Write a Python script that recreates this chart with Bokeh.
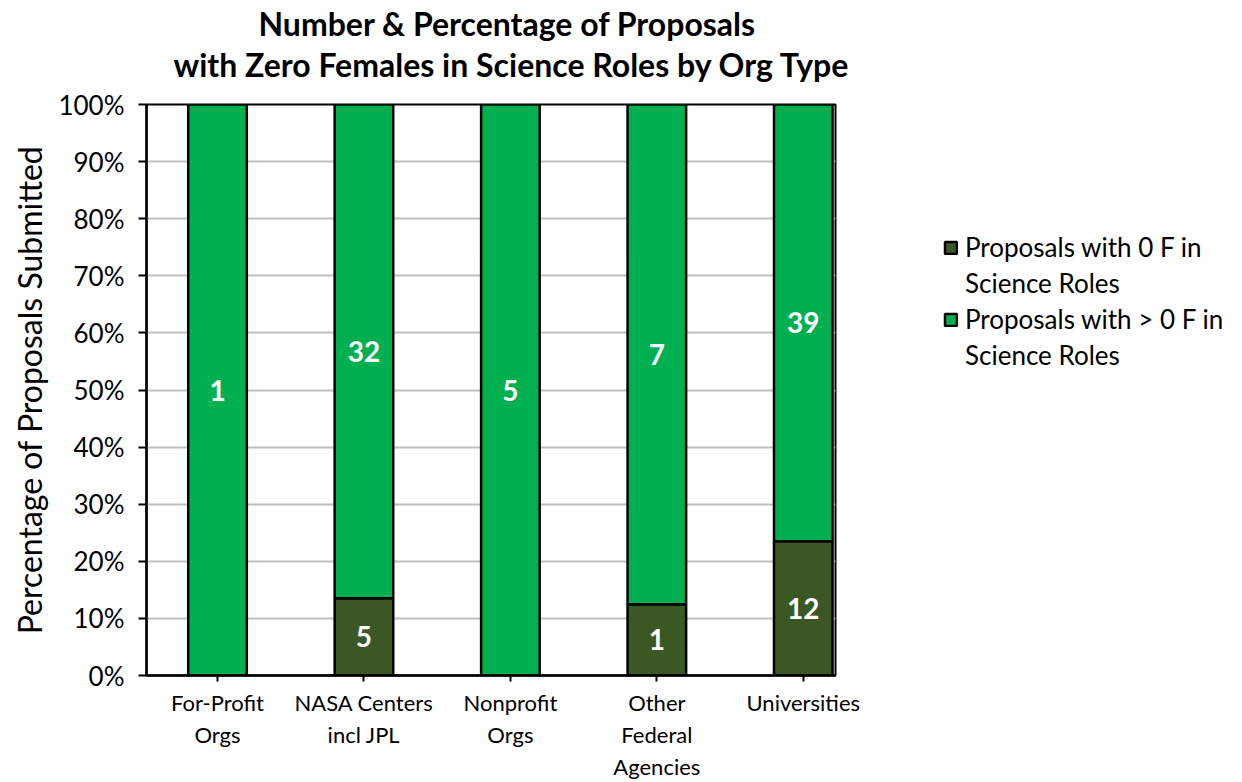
from bokeh.plotting import figure
from bokeh.models import (ColumnDataSource, FixedTicker, NumeralTickFormatter, Legend,
                          LegendItem, Title, Range1d, LabelSet)
from bokeh.embed import file_html
from bokeh.resources import INLINE
from bokeh.core.properties import value

categories = ["For-Profit\nOrgs", "NASA Centers\nincl JPL", "Nonprofit\nOrgs",
              "Other\nFederal\nAgencies", "Universities"]
zero_f = [0, 5, 0, 1, 12]
some_f = [1, 32, 5, 7, 39]
series_names = [["Proposals with 0 F in", "Science Roles"],
                ["Proposals with > 0 F in", "Science Roles"]]
series_colors = ["#3A5724", "#00B050"]
y_ticks = [0, 0.1, 0.2, 0.3, 0.4, 0.5, 0.6, 0.7, 0.8, 0.9, 1.0]

FONT = "Lato"

xs = list(range(len(categories)))
totals = [a + b for a, b in zip(zero_f, some_f)]
share0 = [a / t for a, t in zip(zero_f, totals)]
share1 = [b / t for b, t in zip(some_f, totals)]

src = ColumnDataSource(dict(x=xs, s0=share0, s1=share1))

p = figure(frame_width=689, frame_height=571, output_backend="svg", toolbar_location=None,
           x_range=Range1d(-0.485, 4.22), y_range=Range1d(0, 1),
           min_border_left=146, min_border_right=0, min_border_top=104, min_border_bottom=104)

renderers = p.vbar_stack(["s0", "s1"], x="x", width=0.4, source=src,
                         color=series_colors, line_color="black", line_width=2.5)
# invisible renderer used for the second line of each legend entry
blank = p.vbar(x=[], top=[], width=0.4, fill_alpha=0, line_alpha=0)

# data labels
lab_src0 = ColumnDataSource(dict(x=xs, y=[s / 2 for s in share0],
                                 t=[str(v) if v else "" for v in zero_f]))
lab_src1 = ColumnDataSource(dict(x=xs, y=[a + b / 2 for a, b in zip(share0, share1)],
                                 t=[str(v) if v else "" for v in some_f]))
for s in (lab_src0, lab_src1):
    p.add_layout(LabelSet(x="x", y="y", text="t", source=s, text_color="white",
                          text_font=value(FONT), text_font_style="bold", text_font_size="28px",
                          text_align="center", text_baseline="middle"))

# axes
p.xaxis.ticker = FixedTicker(ticks=xs)
p.xaxis.major_label_overrides = {i: c for i, c in enumerate(categories)}
p.xaxis.major_label_text_font = FONT
p.xaxis.major_label_text_font_size = "22px"
p.xaxis.major_label_text_color = "black"
p.xaxis.major_label_standoff = 7
p.xaxis.major_tick_in = 0
p.xaxis.major_tick_out = 6
p.xaxis.minor_tick_line_color = None
p.xaxis.axis_line_color = "black"
p.xaxis.axis_line_width = 2.5
p.xaxis.major_tick_line_width = 2

p.yaxis.ticker = FixedTicker(ticks=y_ticks)
p.yaxis.formatter = NumeralTickFormatter(format="0%")
p.yaxis.major_label_text_font = FONT
p.yaxis.major_label_text_font_size = "26px"
p.yaxis.major_label_text_color = "black"
p.yaxis.major_label_standoff = 14
p.yaxis.major_tick_in = 0
p.yaxis.major_tick_out = 8
p.yaxis.minor_tick_line_color = None
p.yaxis.axis_line_color = "black"
p.yaxis.axis_line_width = 2.5
p.yaxis.major_tick_line_width = 2
p.yaxis.axis_label = "Percentage of Proposals Submitted"
p.yaxis.axis_label_text_font = FONT
p.yaxis.axis_label_text_font_style = "normal"
p.yaxis.axis_label_text_font_size = "32px"
p.yaxis.axis_label_text_color = "black"
p.yaxis.axis_label_standoff = 6

p.xgrid.grid_line_color = None
p.ygrid.grid_line_color = "#BFBFBF"
p.ygrid.grid_line_width = 2
p.outline_line_color = "black"
p.outline_line_width = 2
p.background_fill_color = "white"
p.border_fill_color = "white"

# titles (spacer first, nearest the frame)
p.add_layout(Title(text=" ", align="left", text_font=FONT, text_font_size="15px",
                   vertical_align="middle", standoff=0, text_line_height=1.0), "above")
p.add_layout(Title(text="with Zero Females in Science Roles by Org Type", align="left",
                   text_font=FONT, text_font_size="32px", text_font_style="bold",
                   text_color="black", offset=27, standoff=0, vertical_align="middle",
                   text_line_height=0.9), "above")
p.add_layout(Title(text="Number & Percentage of Proposals", align="left",
                   text_font=FONT, text_font_size="32px", text_font_style="bold",
                   text_color="black", offset=112, standoff=0, vertical_align="middle",
                   text_line_height=0.9), "above")

items = []
for i in range(2):
    items.append(LegendItem(label=series_names[i][0], renderers=[renderers[i]]))
    items.append(LegendItem(label=series_names[i][1], renderers=[blank]))

legend = Legend(items=items, location=(108, 304), label_text_font=FONT,
                label_text_font_size="26px", label_text_color="black",
                glyph_width=15, glyph_height=15, label_height=30, spacing=4,
                label_standoff=7, border_line_color=None, background_fill_alpha=0)
p.add_layout(legend, "right")

open("out.html", "w").write(file_html(p, INLINE))
